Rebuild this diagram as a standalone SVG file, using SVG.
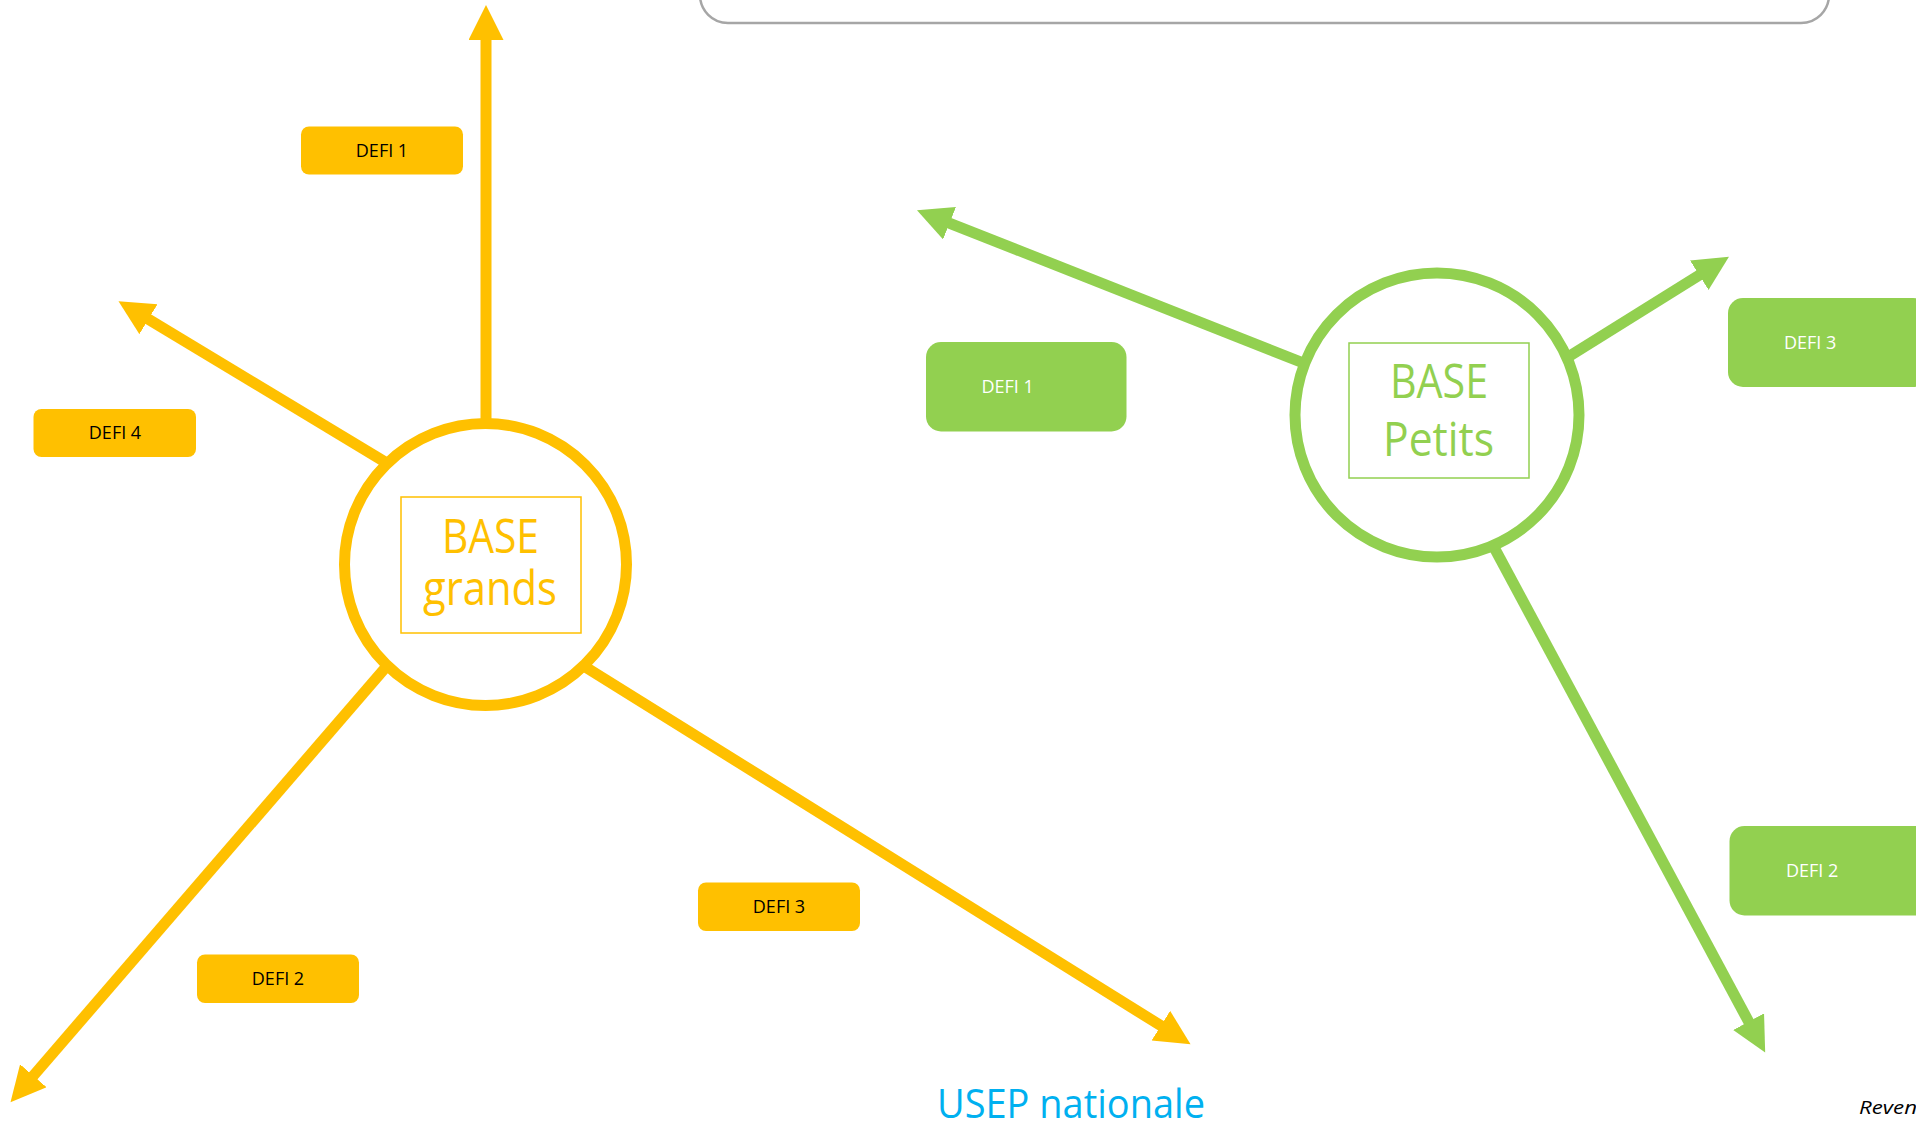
<svg xmlns="http://www.w3.org/2000/svg" width="1916" height="1123" viewBox="0 0 1916 1123">
<defs>
<style>
.bg{fill:#ffffff}
.frame{fill:none;stroke:#a6a6a6;stroke-width:2.5}
.ylw{stroke:#ffc000;stroke-width:11;fill:none}
.grn{stroke:#92d050;stroke-width:11;fill:none}
.hub{fill:#ffffff;stroke-width:11}
.hubY{stroke:#ffc000}
.hubG{stroke:#92d050}
.inY{fill:none;stroke:#ffc000;stroke-width:1.5}
.inG{fill:none;stroke:#92d050;stroke-width:1.5}
.big{font-family:"Open Sans","Liberation Sans",sans-serif;font-size:48px;text-anchor:middle}
.tY{fill:#ffc000}
.tG{fill:#92d050}
.boxY{fill:#ffc000}
.boxG{fill:#92d050}
.lbl{font-family:"Open Sans","Liberation Sans",sans-serif;font-size:18px}
.lblY{fill:#000000;text-anchor:middle}
.lblG{fill:#ffffff}
.usep{font-family:"Open Sans","Liberation Sans",sans-serif;font-size:40px;fill:#00b0f0}
.rev{font-family:"Open Sans","Liberation Sans",sans-serif;font-size:19px;font-style:italic;fill:#000000}
</style>
<marker id="ahY" markerUnits="userSpaceOnUse" markerWidth="36" markerHeight="36" refX="1" refY="17.5" orient="auto" viewBox="0 0 36 36">
<path d="M0,0 L35,17.5 L0,35 z" fill="#ffc000"/>
</marker>
<marker id="ahG" markerUnits="userSpaceOnUse" markerWidth="36" markerHeight="36" refX="1" refY="17.5" orient="auto" viewBox="0 0 36 36">
<path d="M0,0 L35,17.5 L0,35 z" fill="#92d050"/>
</marker>
</defs>
<rect class="bg" x="0" y="0" width="1916" height="1123"/>
<rect id="top-frame" class="frame" x="700" y="-120" width="1129" height="143" rx="28" ry="28"/>

<g id="connectors">
<line class="ylw" x1="486" y1="500" x2="486" y2="39" marker-end="url(#ahY)"/>
<line class="ylw" x1="400" y1="471" x2="147.6" y2="318.7" marker-end="url(#ahY)"/>
<line class="ylw" x1="396.8" y1="654.5" x2="32.7" y2="1076.5" marker-end="url(#ahY)"/>
<line class="ylw" x1="570.7" y1="657.8" x2="1161.7" y2="1026.2" marker-end="url(#ahY)"/>
<line class="grn" x1="1318.6" y1="369" x2="948.6" y2="222.8" marker-end="url(#ahG)"/>
<line class="grn" x1="1553" y1="366.4" x2="1700.1" y2="274.7" marker-end="url(#ahG)"/>
<line class="grn" x1="1486" y1="532.3" x2="1749.1" y2="1022.5" marker-end="url(#ahG)"/>
</g>

<g id="base-grands">
<circle class="hub hubY" cx="485.5" cy="564.5" r="141"/>
<rect class="inY" x="401" y="497" width="180" height="136"/>
<text class="big tY" x="490.5" y="553" textLength="97" lengthAdjust="spacingAndGlyphs">BASE</text>
<text class="big tY" x="490" y="605" textLength="134" lengthAdjust="spacingAndGlyphs">grands</text>
</g>

<g id="base-petits">
<circle class="hub hubG" cx="1437" cy="415" r="142"/>
<rect class="inG" x="1349" y="343" width="180" height="135"/>
<text class="big tG" x="1439" y="398" textLength="98" lengthAdjust="spacingAndGlyphs">BASE</text>
<text class="big tG" x="1438.5" y="456" textLength="111" lengthAdjust="spacingAndGlyphs">Petits</text>
</g>

<g id="defi1-grands">
<rect class="boxY" x="301" y="126.5" width="162" height="48" rx="8"/>
<text class="lbl lblY" x="382" y="157">DEFI 1</text>
</g>
<g id="defi4-grands">
<rect class="boxY" x="33.5" y="409" width="162.5" height="48" rx="8"/>
<text class="lbl lblY" x="115" y="439">DEFI 4</text>
</g>
<g id="defi2-grands">
<rect class="boxY" x="197" y="954.5" width="162" height="48.5" rx="8"/>
<text class="lbl lblY" x="278" y="985">DEFI 2</text>
</g>
<g id="defi3-grands">
<rect class="boxY" x="698" y="882.5" width="162" height="48.5" rx="8"/>
<text class="lbl lblY" x="779" y="913">DEFI 3</text>
</g>

<g id="defi1-petits">
<rect class="boxG" x="926" y="342" width="200.5" height="89.5" rx="15"/>
<text class="lbl lblG" x="981.5" y="393">DEFI 1</text>
</g>
<g id="defi3-petits">
<rect class="boxG" x="1728" y="298" width="200" height="89" rx="15"/>
<text class="lbl lblG" x="1784" y="349">DEFI 3</text>
</g>
<g id="defi2-petits">
<rect class="boxG" x="1729.5" y="826" width="200" height="89.5" rx="15"/>
<text class="lbl lblG" x="1786" y="877">DEFI 2</text>
</g>

<text id="usep" class="usep" x="937" y="1118" textLength="268" lengthAdjust="spacingAndGlyphs">USEP nationale</text>
<text id="reven" class="rev" x="1859" y="1114" textLength="58" lengthAdjust="spacingAndGlyphs">Reven</text>
</svg>
